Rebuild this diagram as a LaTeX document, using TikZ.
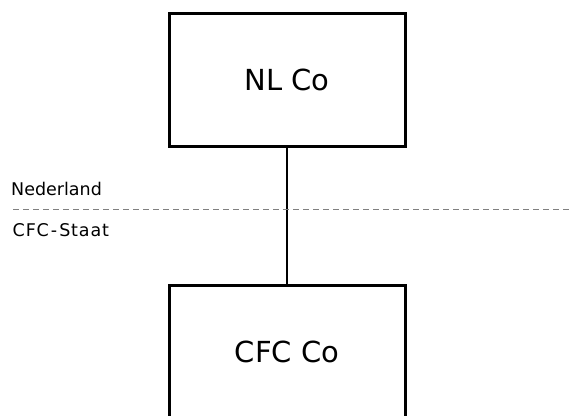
\documentclass[tikz,border=0pt]{standalone}
\usepackage{fontspec}
\setmainfont{DejaVu Sans}
\usepackage{tikz}
\usetikzlibrary{positioning}

\begin{document}
\begin{tikzpicture}[
  x=1pt, y=-1pt,
  entity/.style={draw, line width=3pt, minimum width=236pt, minimum height=133pt,
    font=\fontsize{29}{34}\selectfont},
  region/.style={anchor=base west, inner sep=0pt, font=\fontsize{17.5}{21}\selectfont},
  border/.style={gray, line width=1pt, dash pattern=on 6pt off 4pt}
]
\useasboundingbox (0,0) rectangle (570,415);
\node[entity] (nl) at (287,79.5) {NL Co};
\node[entity, below=136.5pt of nl] (cfc) {CFC Co};
\draw[line width=1.2pt] (nl) -- (cfc);
\coordinate (grens w) at (13,209.5);
\coordinate (grens o) at (570,209.5);
\draw[border] (grens w) -- (grens o);
\node[region] (ned) at (11,195.5) {Nederland};
\node[region] (staat) at (12.5,236.5) {\addfontfeatures{LetterSpace=5}CFC\kern2pt-\kern2pt Staat};
\end{tikzpicture}
\end{document}
